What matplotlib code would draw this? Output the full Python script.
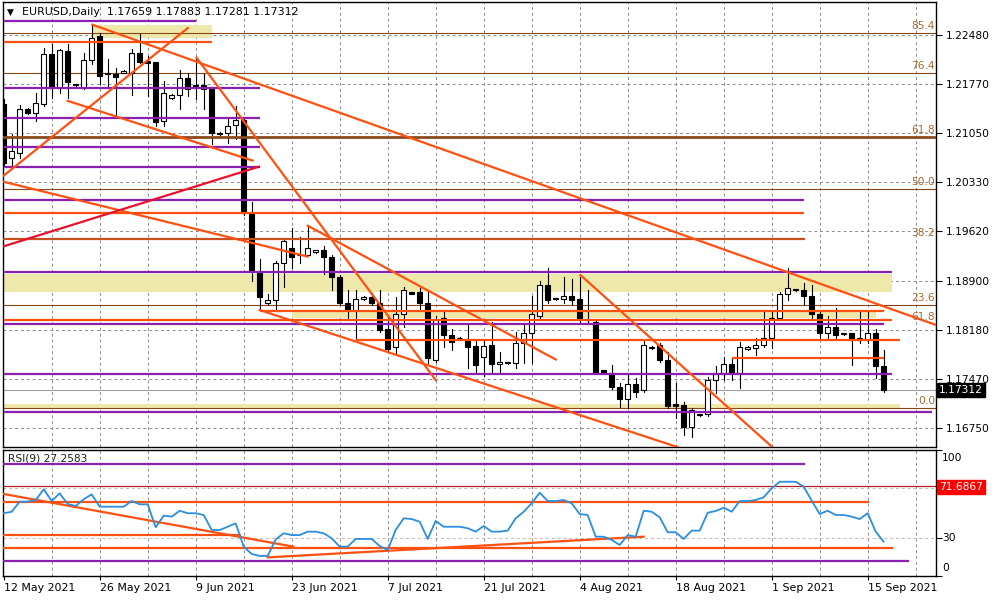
import numpy as np
import matplotlib.pyplot as plt

plt.rcParams['font.family'] = ['DejaVu Sans']

# ---------------- data ----------------
# broker bars (Sunday bars included), 12 May 2021 .. 17 Sep 2021
date_labels = ['12 May 2021', '26 May 2021', '9 Jun 2021', '23 Jun 2021', '7 Jul 2021',
               '21 Jul 2021', '4 Aug 2021', '18 Aug 2021', '1 Sep 2021', '15 Sep 2021']
label_bars = [0, 12, 24, 36, 48, 60, 72, 84, 96, 108]

opens = [1.2148, 1.2068, 1.2076, 1.2140, 1.2135, 1.2148, 1.2220, 1.2171, 1.2225, 1.2175,
         1.2171, 1.2212, 1.2247, 1.2191, 1.2191, 1.2193, 1.2193, 1.2222, 1.2210, 1.2209,
         1.2123, 1.2156, 1.2161, 1.2185, 1.2175, 1.2175, 1.2169, 1.2105, 1.2105, 1.2117,
         1.2124, 1.1989, 1.1902, 1.1857, 1.1861, 1.1915, 1.1938, 1.1927, 1.1927, 1.1931,
         1.1934, 1.1924, 1.1895, 1.1857, 1.1847, 1.1863, 1.1866, 1.1857, 1.1820, 1.1793,
         1.1842, 1.1873, 1.1873, 1.1858, 1.1774, 1.1835, 1.1810, 1.1807, 1.1803, 1.1794,
         1.1778, 1.1796, 1.1768, 1.1770, 1.1770, 1.1799, 1.1813, 1.1839, 1.1884, 1.1863,
         1.1863, 1.1868, 1.1863, 1.1834, 1.1829, 1.1759, 1.1756, 1.1735, 1.1717, 1.1739,
         1.1730, 1.1791, 1.1796, 1.1774, 1.1710, 1.1708, 1.1676, 1.1694, 1.1695, 1.1745,
         1.1754, 1.1768, 1.1755, 1.1790, 1.1791, 1.1796, 1.1806, 1.1836, 1.1871, 1.1876,
         1.1876, 1.1868, 1.1842, 1.1813, 1.1822, 1.1813, 1.1813, 1.1807, 1.1803, 1.1813,
         1.17659]
highs = [1.2155, 1.2104, 1.2146, 1.2141, 1.2164, 1.2229, 1.2235, 1.2228, 1.2235, 1.2177,
         1.2222, 1.2263, 1.2251, 1.2213, 1.2200, 1.2197, 1.2228, 1.2249, 1.2217, 1.2209,
         1.2181, 1.2162, 1.2197, 1.2193, 1.2213, 1.2191, 1.2172, 1.2106, 1.2126, 1.2145,
         1.2127, 1.2004, 1.1922, 1.1871, 1.1919, 1.1950, 1.1967, 1.1953, 1.1970, 1.1935,
         1.1941, 1.1927, 1.1898, 1.1876, 1.1876, 1.1867, 1.1872, 1.1876, 1.1839, 1.1866,
         1.1880, 1.1874, 1.1879, 1.1876, 1.1839, 1.1847, 1.1820, 1.1808, 1.1825, 1.1803,
         1.1803, 1.1829, 1.1786, 1.1772, 1.1815, 1.1828, 1.1868, 1.1890, 1.1908, 1.1865,
         1.1895, 1.1893, 1.1895, 1.1876, 1.1832, 1.1760, 1.1767, 1.1741, 1.1752, 1.1748,
         1.1803, 1.1794, 1.1799, 1.1786, 1.1741, 1.1713, 1.1704, 1.1696, 1.1749, 1.1765,
         1.1778, 1.1777, 1.1800, 1.1794, 1.1807, 1.1844, 1.1844, 1.1873, 1.1908, 1.1878,
         1.1886, 1.1884, 1.1844, 1.1839, 1.1850, 1.1814, 1.1814, 1.1844, 1.1844, 1.1819,
         1.17883]
lows = [1.2057, 1.2057, 1.2068, 1.2133, 1.2123, 1.2145, 1.2156, 1.2164, 1.2156, 1.2173,
        1.2169, 1.2206, 1.2177, 1.2171, 1.2130, 1.2192, 1.2160, 1.2207, 1.2159, 1.2116,
        1.2116, 1.2155, 1.2140, 1.2159, 1.2155, 1.2140, 1.2089, 1.2101, 1.2091, 1.2097,
        1.1985, 1.1890, 1.1847, 1.1854, 1.1847, 1.1880, 1.1909, 1.1915, 1.1927, 1.1930,
        1.1900, 1.1876, 1.1854, 1.1835, 1.1804, 1.1862, 1.1854, 1.1815, 1.1786, 1.1781,
        1.1822, 1.1870, 1.1847, 1.1770, 1.1771, 1.1793, 1.1789, 1.1805, 1.1762, 1.1755,
        1.1751, 1.1757, 1.1757, 1.1768, 1.1762, 1.1770, 1.1770, 1.1835, 1.1857, 1.1862,
        1.1858, 1.1854, 1.1829, 1.1829, 1.1754, 1.1755, 1.1732, 1.1706, 1.1704, 1.1720,
        1.1727, 1.1790, 1.1771, 1.1704, 1.1690, 1.1665, 1.1662, 1.1693, 1.1692, 1.1726,
        1.1745, 1.1745, 1.1733, 1.1789, 1.1781, 1.1793, 1.1791, 1.1835, 1.1861, 1.1875,
        1.1854, 1.1836, 1.1803, 1.1806, 1.1807, 1.1811, 1.1767, 1.1799, 1.1799, 1.1748,
        1.17281]
closes = [1.2062, 1.2079, 1.2140, 1.2135, 1.2149, 1.2220, 1.2171, 1.2226, 1.2180, 1.2176,
          1.2212, 1.2244, 1.2188, 1.2192, 1.2187, 1.2196, 1.2222, 1.2209, 1.2207, 1.2121,
          1.2164, 1.2161, 1.2185, 1.2169, 1.2174, 1.2169, 1.2105, 1.2103, 1.2116, 1.2124,
          1.1989, 1.1905, 1.1866, 1.1861, 1.1915, 1.1948, 1.1924, 1.1928, 1.1938, 1.1934,
          1.1924, 1.1895, 1.1857, 1.1847, 1.1863, 1.1866, 1.1858, 1.1818, 1.1790, 1.1842,
          1.1876, 1.1871, 1.1858, 1.1777, 1.1832, 1.1810, 1.1800, 1.1806, 1.1793, 1.1767,
          1.1794, 1.1768, 1.1771, 1.1771, 1.1799, 1.1813, 1.1842, 1.1884, 1.1861, 1.1864,
          1.1868, 1.1861, 1.1834, 1.1833, 1.1756, 1.1756, 1.1735, 1.1717, 1.1739, 1.1727,
          1.1796, 1.1793, 1.1774, 1.1707, 1.1707, 1.1676, 1.1701, 1.1695, 1.1745, 1.1754,
          1.1768, 1.1755, 1.1793, 1.1793, 1.1796, 1.1806, 1.1835, 1.1871, 1.1879, 1.1877,
          1.1868, 1.1842, 1.1813, 1.1823, 1.1810, 1.1812, 1.1807, 1.1803, 1.1813, 1.1765,
          1.17312]

rsi = [49.8, 51.0, 59.0, 59.0, 60.3, 68.8, 59.5, 65.6, 57.1, 55.6,
       60.9, 64.8, 55.0, 55.0, 55.0, 55.0, 59.5, 56.9, 56.9, 38.7,
       47.9, 47.1, 51.8, 49.8, 49.8, 48.4, 36.5, 36.5, 39.1, 41.8,
       23.3, 17.5, 15.9, 15.9, 29.1, 33.9, 32.5, 32.5, 35.2, 35.2,
       33.9, 29.9, 23.3, 23.3, 29.4, 29.4, 29.4, 23.8, 20.6, 36.5,
       45.8, 45.2, 43.1, 29.4, 43.7, 39.1, 39.1, 39.1, 37.9, 35.2,
       39.7, 35.2, 35.2, 36.0, 45.8, 51.0, 57.7, 66.1, 59.5, 59.5,
       60.3, 57.7, 49.2, 48.4, 31.2, 31.2, 28.6, 24.6, 32.5, 31.2,
       51.8, 51.0, 46.6, 34.7, 34.7, 29.4, 36.0, 36.0, 50.2, 51.6,
       54.2, 51.0, 59.5, 59.5, 60.3, 62.5, 69.6, 74.8, 74.8, 74.8,
       70.9, 59.8, 49.2, 51.8, 48.4, 48.4, 47.1, 45.2, 49.8, 35.2,
       27.2583]

price_ticks = [1.22480, 1.21770, 1.21050, 1.20330, 1.19620, 1.18900, 1.18180, 1.17470, 1.16750]
bid = 1.17312

fib_low, fib_high = 1.1704, 1.2344
fib_levels = [0.0, 23.6, 38.2, 50.0, 61.8, 76.4, 85.4]
fib_full = [0.0, 23.6, 50.0, 61.8, 76.4, 85.4]   # levels whose line spans the chart

# horizontal objects: (price, first bar, last bar)
purple_lines = [(1.2268, 0, 24), (1.2171, 0, 32), (1.2127, 0, 32), (1.2085, 0, 32),
                (1.2056, 0, 32), (1.2008, 0, 100), (1.1903, 0, 111), (1.1826, 0, 110),
                (1.1754, 0, 111), (1.1698, 0, 116)]
orange_lines = [(1.2238, 0, 26), (1.1988, 0, 100), (1.1845, 32, 110), (1.1832, 0, 111),
                (1.1804, 44, 112), (1.1777, 91, 110)]
brown_lines = [(1.1950, 0, 100), (1.2100, 0, 117)]
zones = [(1.2244, 1.2263, 11, 26), (1.1873, 1.1900, 0, 111),
         (1.1835, 1.1844, 36, 109), (1.1704, 1.1710, 0, 112)]

# trend lines: (bar, price) -> (bar, price)
trend_orange = [((11.1, 1.2263), (116.6, 1.1825)),
                ((0, 1.2043), (23.0, 1.2258)),
                ((0, 1.2034), (38.0, 1.1925)),
                ((8.0, 1.2152), (31.1, 1.2065)),
                ((24.1, 1.2215), (54.0, 1.1745)),
                ((38.0, 1.1970), (69.0, 1.1775)),
                ((32.0, 1.1847), (84.3, 1.1647)),
                ((72.1, 1.1898), (96.1, 1.1647))]
trend_red = [((0, 1.1940), (31.9, 1.2056))]

# RSI objects: (value, first bar, last bar)
rsi_purple = [(88.9, 0, 100), (12.1, 0, 113)]
rsi_orange = [(59.0, 0, 108), (32.5, 0, 29.6), (22.5, 0, 111)]
rsi_trend = [((0, 65.1), (36.2, 23.3)), ((33.0, 14.8), (80.0, 31.2))]
rsi_mark = 71.6867

# ---------------- styling ----------------
PURPLE = '#8a1fb0'
ORANGE = '#ff5010'
RED = '#e8102c'
FIB = '#8b4513'
FIB_TXT = '#a8692e'
ZONE = '#eee8aa'
GRID = '#8c8c8c'

fig = plt.figure(figsize=(10, 6), dpi=100)


def rect(x0, y0, x1, y1):
    # pixel box (top-left origin) -> figure fraction
    return [x0 / 1000, 1 - y1 / 600, (x1 - x0) / 1000, (y1 - y0) / 600]


ax = fig.add_axes(rect(2.7, 2, 936, 447))
ax2 = fig.add_axes(rect(2.7, 450, 936, 576))

n = len(closes)
xs = np.arange(n)
xlim = (-0.125, 116.54)

for a in (ax, ax2):
    a.set_xlim(*xlim)
    for s in a.spines.values():
        s.set_color('black')
        s.set_linewidth(1.0)
    for g in range(6, 117, 6):
        a.axvline(g, color=GRID, lw=0.7, ls=(0, (3, 3)), zorder=0)

ax.set_ylim(1.16474, 1.22961)
ax2.set_ylim(0, 100)

# price grid and right axis
for p in price_ticks:
    ax.axhline(p, color=GRID, lw=0.7, ls=(0, (3, 3)), zorder=0)
ax.yaxis.tick_right()
ax.set_yticks(price_ticks)
ax.set_yticklabels([f'{p:.5f}' for p in price_ticks])
ax.tick_params(axis='y', length=4, width=0.8, labelsize=7.7, pad=3)
ax.set_xticks([])

# zones
for lo, hi, b0, b1 in zones:
    ax.fill_between([b0, b1], lo, hi, color=ZONE, lw=0, zorder=1)

# fibonacci
for lv in fib_levels:
    p = fib_low + (fib_high - fib_low) * lv / 100
    if lv in fib_full:
        ax.axhline(p, color=FIB, lw=0.8, zorder=2)
    ax.text(116.4, p + 0.0003, f'{lv:.1f}', color=FIB_TXT, fontsize=7.7,
            ha='right', va='bottom', zorder=6)
ax.text(116.4, 1.1826 + 0.0003, '61.8', color=FIB_TXT, fontsize=7.7,
        ha='right', va='bottom', zorder=6)

# bid line
ax.axhline(bid, color='#a0a0a0', lw=0.8, zorder=2)

# candles
w = 0.62
for i in range(n):
    o, h, l, c = opens[i], highs[i], lows[i], closes[i]
    ax.plot([i, i], [l, h], color='black', lw=0.8, zorder=3)
    up = c >= o
    ax.bar(i, max(abs(c - o), 0.00001), bottom=min(o, c), width=w,
           color='white' if up else 'black', edgecolor='black', lw=0.8, zorder=3)

# horizontal objects
for p, b0, b1 in purple_lines:
    ax.plot([b0, b1], [p, p], color=PURPLE, lw=1.6, zorder=4, solid_capstyle='butt')
for p, b0, b1 in orange_lines:
    ax.plot([b0, b1], [p, p], color=ORANGE, lw=1.6, zorder=4, solid_capstyle='butt')
ax.plot([brown_lines[0][1], brown_lines[0][2]], [brown_lines[0][0]] * 2,
        color='#c8501e', lw=1.6, zorder=4)
ax.plot([brown_lines[1][1], brown_lines[1][2]], [brown_lines[1][0]] * 2,
        color='#8b4a1c', lw=2.0, zorder=4)

# trend lines
for (b0, p0), (b1, p1) in trend_orange:
    ax.plot([b0, b1], [p0, p1], color=ORANGE, lw=1.6, zorder=5)
for (b0, p0), (b1, p1) in trend_red:
    ax.plot([b0, b1], [p0, p1], color=RED, lw=1.6, zorder=5)

# header
fig.text(7 / 1000, 1 - 12 / 600, '\u25bc', fontsize=6.5, va='center', ha='left')
fig.text(22 / 1000, 1 - 12 / 600, 'EURUSD,Daily  1.17659 1.17883 1.17281 1.17312',
         fontsize=7.9, va='center', ha='left')

# bid box
fig.text(939 / 1000, 1 - 390 / 600, f'{bid:.5f}', fontsize=7.7, color='white',
         va='center', ha='left',
         bbox=dict(boxstyle='square,pad=0.18', fc='black', ec='black'))

# ---------------- RSI panel ----------------
for lv in (30, 70):
    ax2.axhline(lv, color='#c8b4b4', lw=0.7, ls=(0, (3, 3)), zorder=0)
for v, b0, b1 in rsi_purple:
    ax2.plot([b0, b1], [v, v], color=PURPLE, lw=1.6, zorder=3)
for v, b0, b1 in rsi_orange:
    ax2.plot([b0, b1], [v, v], color=ORANGE, lw=1.6, zorder=3)
for (b0, v0), (b1, v1) in rsi_trend:
    ax2.plot([b0, b1], [v0, v1], color=ORANGE, lw=1.6, zorder=3)
ax2.axhline(rsi_mark, color='#b22222', lw=0.9, zorder=2)
ax2.plot(xs, rsi, color='#2b8ee0', lw=1.3, zorder=4)

ax2.yaxis.tick_right()
ax2.set_yticks([0, 30, 100])
ax2.set_yticklabels([])
ax2.tick_params(axis='y', length=4, width=0.8)
for v, y in ((100, 458), (30, 538), (0, 568)):
    fig.text(942 / 1000, 1 - y / 600, str(v), fontsize=7.7, va='center', ha='left')
fig.text(939 / 1000, 1 - 487 / 600, f'{rsi_mark:.4f}', fontsize=7.7, color='white',
         va='center', ha='left',
         bbox=dict(boxstyle='square,pad=0.18', fc='#ff0000', ec='#ff0000'))
ax2.text(0.5, 97, f'RSI(9) {rsi[-1]:.4f}', fontsize=7.7, color='#202020',
         va='top', ha='left', zorder=6)

ax2.set_xticks(label_bars)
ax2.set_xticklabels([])
ax2.tick_params(axis='x', length=3, width=0.8)
for b, lab in zip(label_bars, date_labels):
    fig.text((3.7 + 8 * b) / 1000, 1 - 588 / 600, lab, fontsize=7.9,
             va='center', ha='left')

fig.savefig('out.png', dpi=100, facecolor='white')
